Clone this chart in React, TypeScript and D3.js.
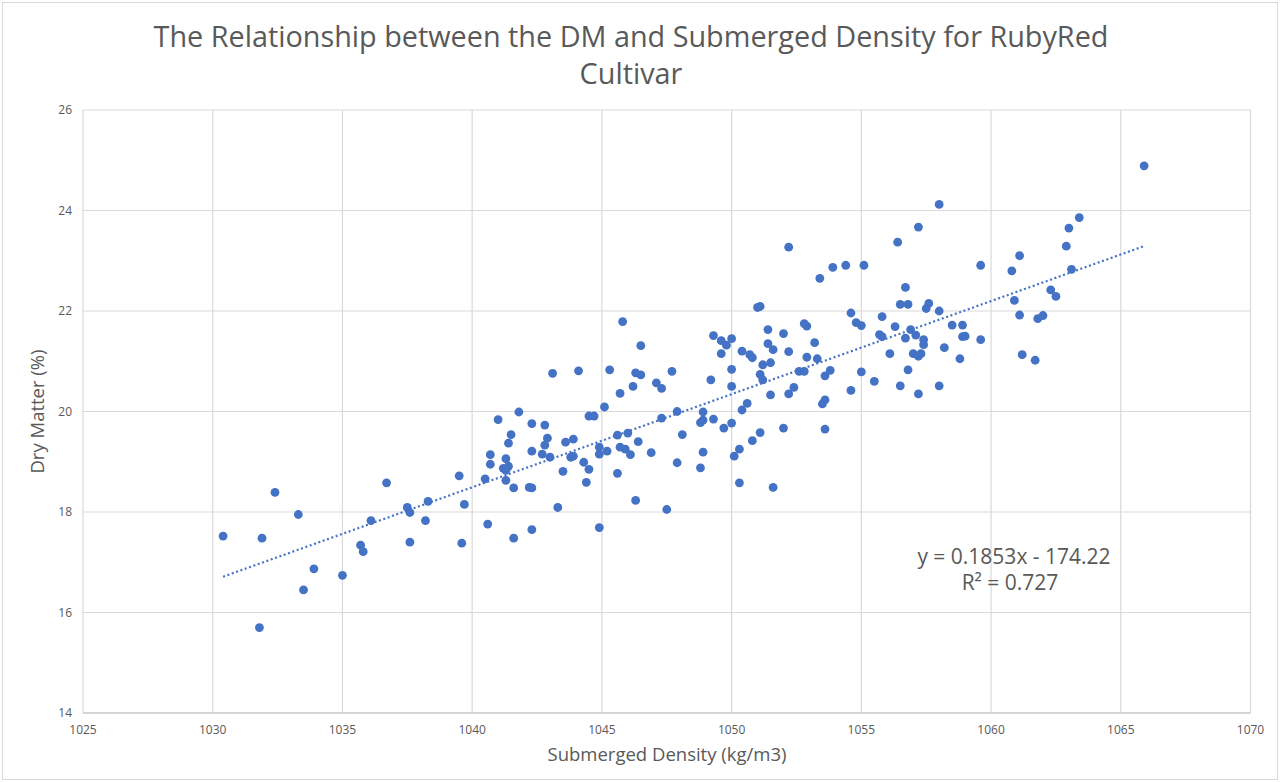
import React from "react";
import * as d3 from "d3";

const density: number[] = [
  1030.4, 1031.9, 1032.4, 1033.3, 1031.8, 1033.5, 1033.9, 1035.0, 1035.7, 1035.8,
  1036.1, 1036.7, 1037.5, 1037.6, 1037.6, 1038.2, 1038.3, 1039.5, 1039.7, 1039.6,
  1040.5, 1040.6, 1041.0, 1041.8, 1040.7, 1040.7, 1041.4, 1041.5, 1041.3, 1041.2,
  1041.4, 1041.3, 1041.3, 1041.6, 1042.3, 1042.3, 1042.2, 1042.3, 1042.8, 1042.9,
  1042.8, 1042.7, 1043.0, 1043.1, 1044.1, 1043.6, 1043.9, 1043.8, 1043.9, 1043.5,
  1043.3, 1044.3, 1044.5, 1044.4, 1044.5, 1044.7, 1045.1, 1045.3, 1044.9, 1044.9,
  1045.2, 1044.9, 1045.7, 1045.6, 1045.7, 1045.9, 1046.1, 1046.0, 1045.6, 1046.3,
  1046.5, 1046.2, 1046.4, 1046.3, 1047.1, 1047.3, 1046.9, 1047.3, 1047.5, 1047.7,
  1047.9, 1047.9, 1041.6, 1042.3, 1045.8, 1046.5, 1048.1, 1048.8, 1048.9, 1048.8,
  1048.9, 1048.9, 1049.3, 1049.7, 1050.0, 1049.2, 1049.3, 1049.6, 1049.8, 1050.0,
  1049.6, 1050.0, 1050.0, 1050.4, 1050.7, 1050.8, 1051.0, 1051.1, 1051.4, 1051.4,
  1051.6, 1051.2, 1051.5, 1051.1, 1051.2, 1051.5, 1050.6, 1050.4, 1050.3, 1050.1,
  1050.8, 1051.1, 1050.3, 1051.6, 1052.0, 1052.0, 1052.2, 1052.2, 1052.4, 1052.6,
  1052.8, 1052.8, 1052.9, 1052.9, 1053.2, 1053.3, 1053.6, 1053.8, 1053.5, 1053.6,
  1053.6, 1054.6, 1054.8, 1055.0, 1054.6, 1055.0, 1055.5, 1055.7, 1052.2, 1053.4,
  1053.9, 1054.4, 1055.1, 1056.4, 1057.2, 1058.0, 1059.6, 1056.7, 1056.5, 1056.8,
  1057.5, 1057.6, 1058.0, 1055.8, 1055.8, 1056.3, 1056.7, 1056.9, 1057.1, 1057.4,
  1057.4, 1057.0, 1057.2, 1057.3, 1058.2, 1058.5, 1058.9, 1058.9, 1059.0, 1059.6,
  1058.8, 1056.1, 1056.8, 1056.5, 1057.2, 1058.0, 1060.8, 1061.1, 1062.9, 1063.0,
  1063.1, 1063.4, 1060.9, 1061.1, 1062.3, 1062.5, 1061.8, 1062.0, 1061.2, 1061.7,
  1065.9,
];

const dryMatter: number[] = [
  17.52, 17.48, 18.39, 17.95, 15.70, 16.45, 16.87, 16.74, 17.34, 17.21,
  17.83, 18.58, 18.09, 17.99, 17.40, 17.83, 18.21, 18.72, 18.15, 17.38,
  18.66, 17.76, 19.84, 19.99, 19.14, 18.95, 19.37, 19.54, 19.06, 18.87,
  18.91, 18.83, 18.63, 18.48, 19.76, 19.21, 18.49, 18.48, 19.73, 19.47,
  19.33, 19.15, 19.09, 20.76, 20.81, 19.39, 19.45, 19.09, 19.11, 18.81,
  18.09, 18.99, 18.85, 18.59, 19.91, 19.91, 20.09, 20.83, 19.29, 19.15,
  19.21, 17.69, 20.36, 19.53, 19.29, 19.25, 19.14, 19.57, 18.77, 20.77,
  20.73, 20.50, 19.40, 18.23, 20.57, 20.46, 19.18, 19.87, 18.05, 20.80,
  18.98, 20.00, 17.48, 17.65, 21.79, 21.31, 19.54, 18.88, 19.19, 19.78,
  19.83, 19.99, 19.85, 19.67, 19.77, 20.63, 21.51, 21.41, 21.32, 21.45,
  21.15, 20.84, 20.50, 21.20, 21.13, 21.07, 22.07, 22.09, 21.63, 21.35,
  21.23, 20.93, 20.97, 20.74, 20.63, 20.33, 20.16, 20.03, 19.25, 19.11,
  19.42, 19.58, 18.58, 18.49, 19.67, 21.55, 21.19, 20.35, 20.48, 20.80,
  20.80, 21.75, 21.70, 21.08, 21.37, 21.05, 20.71, 20.82, 20.15, 20.23,
  19.65, 21.96, 21.77, 21.71, 20.42, 20.79, 20.60, 21.53, 23.27, 22.65,
  22.87, 22.91, 22.91, 23.37, 23.67, 24.12, 22.91, 22.47, 22.13, 22.13,
  22.05, 22.15, 22.00, 21.89, 21.49, 21.69, 21.46, 21.63, 21.52, 21.43,
  21.33, 21.15, 21.10, 21.15, 21.27, 21.72, 21.72, 21.49, 21.50, 21.43,
  21.05, 21.15, 20.83, 20.51, 20.35, 20.51, 22.80, 23.10, 23.29, 23.65,
  22.83, 23.86, 22.21, 21.92, 22.42, 22.29, 21.85, 21.91, 21.13, 21.02,
  24.89,
];

const xTicks: number[] = [1025, 1030, 1035, 1040, 1045, 1050, 1055, 1060, 1065, 1070];
const yTicks: number[] = [14, 16, 18, 20, 22, 24, 26];

const slope = 0.1853;
const intercept = -174.22;
const titleLines: string[] = [
  "The Relationship between the DM and Submerged Density for RubyRed",
  "Cultivar",
];
const xTitle = "Submerged Density (kg/m3)";
const yTitle = "Dry Matter (%)";
const eqLine = "y = 0.1853x - 174.22";
const r2Line = "R² = 0.727";

const W = 1280;
const H = 782;
const FONT = "'Open Sans', 'Noto Sans', sans-serif";
const TEXT = "#595959";
const GRID = "#d9d9d9";
const BLUE = "#4472c4";

export default function App() {
  const x = d3.scaleLinear().domain([1025, 1070]).range([83, 1250.5]);
  const y = d3.scaleLinear().domain([14, 26]).range([713, 110]);
  const points = density.map((d, i) => ({ d, m: dryMatter[i] }));
  const xMin = d3.min(density) as number;
  const xMax = d3.max(density) as number;
  const line = d3
    .line<number>()
    .x((v) => x(v))
    .y((v) => y(slope * v + intercept));

  return (
    <svg
      width={W}
      height={H}
      style={{ position: "absolute", left: 0, top: 0, background: "#fff" }}
      fontFamily={FONT}
    >
      <rect x={2.5} y={2.5} width={W - 5} height={H - 5} fill="#fff" stroke={GRID} />
      {titleLines.map((t, i) => (
        <text
          key={i}
          x={631}
          y={47 + i * 37}
          textAnchor="middle"
          fontSize={28.8}
          fill={TEXT}
        >
          {t}
        </text>
      ))}
      {yTicks.map((t) => (
        <line key={"gy" + t} x1={x(1025)} x2={x(1070)} y1={y(t)} y2={y(t)} stroke={GRID} strokeWidth={1.2} />
      ))}
      {xTicks.map((t) => (
        <line key={"gx" + t} x1={x(t)} x2={x(t)} y1={y(14)} y2={y(26)} stroke={GRID} strokeWidth={1.2} />
      ))}
      <line x1={x(1025)} x2={x(1070)} y1={y(14)} y2={y(14)} stroke="#bfbfbf" strokeWidth={1.2} />
      {yTicks.map((t) => (
        <text key={"ty" + t} x={72} y={y(t) + 4} textAnchor="end" fontSize={12} fill={TEXT}>
          {t}
        </text>
      ))}
      {xTicks.map((t) => (
        <text key={"tx" + t} x={x(t)} y={734} textAnchor="middle" fontSize={12} fill={TEXT}>
          {t}
        </text>
      ))}
      <text x={667} y={761} textAnchor="middle" fontSize={18.5} fill={TEXT}>
        {xTitle}
      </text>
      <text
        transform={`translate(44, ${y(20)}) rotate(-90)`}
        textAnchor="middle"
        fontSize={18.5}
        fill={TEXT}
      >
        {yTitle}
      </text>
      {points.map((p, i) => (
        <circle key={i} cx={x(p.d)} cy={y(p.m)} r={4.4} fill={BLUE} />
      ))}
      <path
        d={line([xMin, xMax]) || ""}
        fill="none"
        stroke={BLUE}
        strokeWidth={2.2}
        strokeDasharray="2 2.6"
      />
      <text x={1014} y={564} textAnchor="middle" fontSize={21} fill={TEXT}>
        {eqLine}
      </text>
      <text x={1010} y={590} textAnchor="middle" fontSize={21} fill={TEXT}>
        {r2Line}
      </text>
    </svg>
  );
}
